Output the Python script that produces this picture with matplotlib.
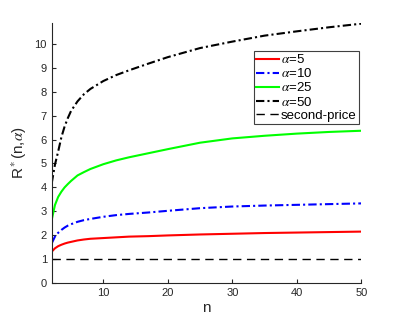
import matplotlib
matplotlib.use("Agg")
import matplotlib.pyplot as plt

n = [2, 2.5, 3, 3.5, 4, 4.5, 5, 6, 7, 8, 10, 12, 14, 17, 20, 25, 30, 35, 40, 45, 50]
r_a5 = [1.31, 1.45, 1.54, 1.60, 1.65, 1.69, 1.72, 1.78, 1.82, 1.85, 1.88, 1.91, 1.94, 1.96, 1.99, 2.03, 2.06, 2.09, 2.11, 2.13, 2.15]
r_a10 = [1.66, 1.94, 2.10, 2.22, 2.32, 2.40, 2.46, 2.56, 2.63, 2.68, 2.77, 2.84, 2.89, 2.95, 3.02, 3.13, 3.20, 3.24, 3.27, 3.30, 3.33]
r_a25 = [2.64, 3.26, 3.60, 3.82, 4.00, 4.14, 4.27, 4.50, 4.64, 4.77, 4.97, 5.13, 5.26, 5.43, 5.60, 5.87, 6.05, 6.16, 6.25, 6.32, 6.37]
r_a50 = [4.17, 4.95, 5.50, 6.10, 6.55, 6.90, 7.20, 7.60, 7.90, 8.12, 8.45, 8.70, 8.90, 9.18, 9.45, 9.83, 10.10, 10.35, 10.53, 10.70, 10.85]
second_price = [1.0] * len(n)

labels = [r'$\alpha$=5', r'$\alpha$=10', r'$\alpha$=25', r'$\alpha$=50', 'second-price']
xticks = [10, 20, 30, 40, 50]
yticks = list(range(0, 11))

plt.rcParams['font.family'] = ['Liberation Sans', 'DejaVu Sans']
plt.rcParams['mathtext.fontset'] = 'stix'

fig = plt.figure(figsize=(3.99, 3.19), dpi=100)
ax = fig.add_axes([0.1296, 0.1129, 0.7759, 0.8151])

dd = (4, 1.5, 1, 1.5)
ax.plot(n, r_a5, color='#ff0000', lw=1.5, label=labels[0])
ax.plot(n, r_a10, color='#0000ff', lw=1.5, dashes=dd, label=labels[1])
ax.plot(n, r_a25, color='#00ff00', lw=1.5, label=labels[2])
ax.plot(n, r_a50, color='black', lw=1.5, dashes=dd, label=labels[3])
ax.plot(n, second_price, color='black', lw=1.0, dashes=(6, 4), label=labels[4])

ax.set_xlim(2, 50)
ax.set_ylim(0, 10.88)
ax.set_xticks(xticks)
ax.set_yticks(yticks)

gray = '#262626'
for s in ['top', 'right']:
    ax.spines[s].set_visible(False)
for s in ['left', 'bottom']:
    ax.spines[s].set_color(gray)
    ax.spines[s].set_linewidth(0.8)
ax.tick_params(direction='in', length=3, width=0.8, color=gray, labelcolor=gray, labelsize=8)

ax.set_xlabel('n', fontsize=11, color=gray, labelpad=2)
ax.set_ylabel(r'R$^*$(n,$\alpha$)', fontsize=11, color=gray, labelpad=4)

leg = ax.legend(loc='upper right', bbox_to_anchor=(0.8997, 0.841), bbox_transform=fig.transFigure,
                borderaxespad=0, fontsize=9.5, handlelength=1.75, handletextpad=0.1,
                labelspacing=0.08, borderpad=0.2, fancybox=False, framealpha=1)
leg.get_frame().set_edgecolor('#404040')
leg.get_frame().set_linewidth(0.8)

fig.savefig('out.png', dpi=100)
